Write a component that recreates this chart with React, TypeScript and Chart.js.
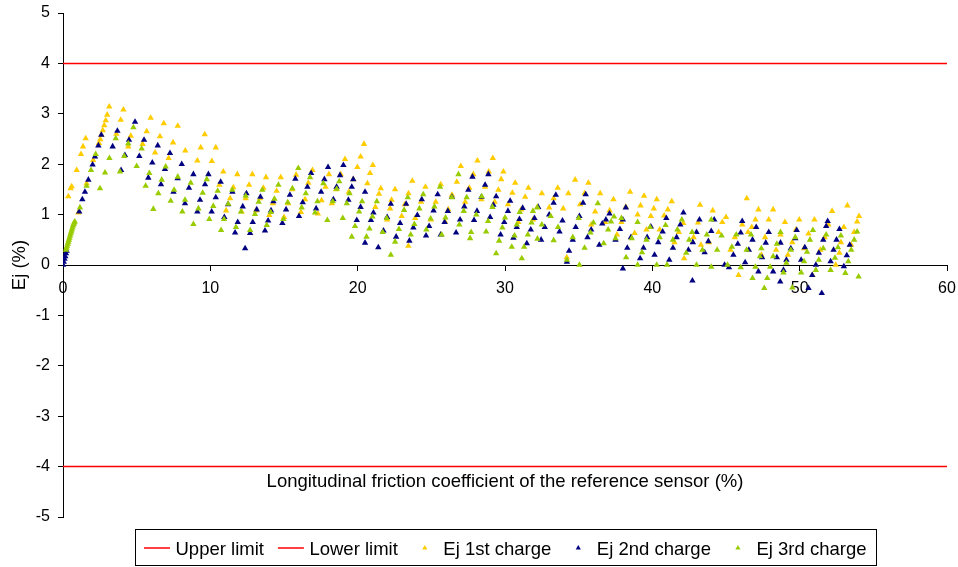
import React, { useEffect, useRef } from "react";
import { Chart, registerables } from "chart.js";

Chart.register(...registerables);

const FONT = '"Liberation Sans", Arial, Helvetica, sans-serif';

// ---- data ----
const xTitle = "Longitudinal friction coefficient of the reference sensor (%)";
const yTitle = "Ej (%)";
const seriesLabels = ["Upper limit", "Lower limit", "Ej 1st charge", "Ej 2nd charge", "Ej 3rd charge"];
const limitX = [0, 60];
const upperLimit = [4, 4];
const lowerLimit = [-4, -4];

const ej1Points: [number, number][] = [
  [0.36, 1.36], [0.52, 1.52], [0.59, 1.56], [0.93, 1.88], [1.22, 2.2], [1.36, 2.35], [1.54, 2.51],
  [1.04, 1.04], [1.6, 1.62], [2.05, 2.08], [2.44, 2.42], [2.53, 2.49], [2.6, 2.58], [2.7, 2.67], [2.8, 2.77],
  [2.9, 2.87], [3.0, 2.98], [3.14, 3.14],
  [3.62, 2.6], [3.92, 2.88], [4.1, 3.08], [4.43, 2.35], [4.6, 2.56],
  [5.4, 2.4], [5.68, 2.65], [5.95, 2.92], [6.25, 2.23], [6.58, 2.55], [6.84, 2.81],
  [7.17, 2.12], [7.47, 2.43], [7.79, 2.76], [8.3, 2.27],
  [9.12, 2.07], [9.35, 2.33], [9.62, 2.59], [10.1, 2.06], [10.37, 2.33], [10.61, 1.59], [10.88, 1.85],
  [11.07, 1.08], [11.34, 1.32], [11.56, 1.54], [11.83, 1.8],
  [12.12, 1.06], [12.4, 1.32], [12.63, 1.59], [12.85, 1.8],
  [13.1, 1.08], [13.37, 1.32], [13.6, 1.53], [13.78, 1.74],
  [14.0, 0.99], [14.25, 1.22], [14.5, 1.47], [14.78, 1.74],
  [15.0, 0.95], [15.28, 1.22], [15.55, 1.5], [15.82, 1.79],
  [16.15, 1.05], [16.43, 1.3], [16.65, 1.63], [16.93, 1.88],
  [17.3, 1.02], [17.55, 1.28], [17.82, 1.55], [18.05, 1.8],
  [18.25, 1.22], [18.53, 1.5], [18.85, 1.8], [19.14, 2.1],
  [19.4, 1.45], [19.7, 1.7], [19.98, 1.94], [20.2, 2.15], [20.43, 2.4],
  [20.66, 1.62], [20.84, 1.82], [21.03, 1.98],
  [21.2, 1.15], [21.45, 1.41], [21.57, 1.52],
  [22.0, 0.9], [22.2, 1.12], [22.3, 1.29], [22.54, 1.5],
  [22.99, 0.97], [23.2, 1.2], [23.45, 1.42], [23.71, 1.67],
  [23.44, 0.38], [23.9, 0.93], [24.3, 1.25], [24.6, 1.55],
  [24.97, 0.9], [25.3, 1.25], [25.64, 1.6],
  [25.93, 0.86], [26.15, 1.1], [26.4, 1.39], [26.73, 1.65], [27.0, 1.96],
  [27.3, 1.25], [27.58, 1.53], [27.85, 1.8], [28.13, 2.07],
  [28.4, 1.3], [28.65, 1.55], [28.9, 1.85], [29.17, 2.12],
  [29.3, 1.25], [29.55, 1.49], [29.74, 1.7], [29.89, 1.85],
  [30.2, 1.2], [30.5, 1.43], [30.69, 1.63],
  [30.9, 0.85], [31.1, 1.1], [31.37, 1.35], [31.59, 1.53],
  [31.9, 0.9], [32.2, 1.15], [32.5, 1.42],
  [33.0, 1.14], [33.3, 1.32], [33.58, 1.53],
  [33.95, 1.12], [34.3, 1.42], [34.76, 1.69], [34.19, 0.15],
  [35.1, 1.2], [35.4, 1.42], [35.66, 1.63],
  [35.85, 0.8], [36.12, 1.06], [36.46, 1.42],
  [36.8, 0.85], [37.1, 1.08], [37.36, 1.3],
  [37.6, 0.6], [37.9, 0.85], [38.2, 1.15], [38.49, 1.45],
  [38.8, 0.63], [39.0, 1.0], [39.2, 1.18], [39.44, 1.37],
  [39.6, 0.7], [39.9, 0.97], [40.1, 1.12], [40.3, 1.3],
  [40.5, 0.7], [40.8, 0.98], [41.05, 1.1], [41.32, 1.26],
  [41.5, 0.45], [41.8, 0.65], [42.1, 0.83], [42.16, 0.13],
  [42.8, 0.55], [43.1, 0.84], [43.24, 1.19], [43.3, 0.4],
  [43.85, 0.45], [44.1, 1.08], [44.5, 0.65], [44.75, 0.85], [45.0, 0.95],
  [45.3, 0.3], [45.6, 0.55], [45.85, -0.2], [46.1, 0.8], [46.41, 1.32], [46.5, 0.65],
  [46.75, 0.75], [47.0, 0.9], [47.2, 1.1],
  [47.4, 0.2], [47.65, 0.55], [47.9, 0.9], [48.2, 1.1],
  [48.4, 0.3], [48.7, 0.6], [49.0, 0.85],
  [49.2, 0.2], [49.5, 0.45], [49.75, 0.7], [49.97, 0.9],
  [50.3, 0.33], [50.6, 0.62], [50.87, -0.2], [51.0, 0.9],
  [51.4, 0.3], [51.7, 0.55], [51.95, 0.8], [52.2, 1.07],
  [52.45, 0.0], [52.7, 0.24], [52.8, 0.45], [53.0, 0.75], [53.24, 1.18],
  [53.5, 0.4], [53.7, 0.65], [53.9, 0.86], [54.03, 0.97],
];

const ej2Points: [number, number][] = [
  [0.0, 0.0], [0.05, 0.06], [0.1, 0.12], [0.15, 0.17], [0.2, 0.23], [0.25, 0.28],
  [1.1, 1.06], [1.31, 1.3], [1.49, 1.45], [1.72, 1.69], [2.01, 1.99], [2.17, 2.15], [2.4, 2.37], [2.6, 2.58],
  [3.37, 2.35], [3.69, 2.66], [3.94, 1.88], [4.2, 2.18], [4.48, 2.48], [4.89, 2.84],
  [5.18, 2.16], [5.5, 2.48], [5.79, 1.73], [6.06, 2.03], [6.43, 2.37],
  [6.65, 1.6], [6.92, 1.9], [7.26, 2.22], [7.5, 1.45], [7.78, 1.72], [8.06, 2.0],
  [8.28, 1.22], [8.55, 1.53], [8.85, 1.8], [9.12, 1.06], [9.3, 1.29], [9.64, 1.6], [9.87, 1.8],
  [10.09, 1.06], [10.37, 1.34], [10.7, 1.65], [10.95, 0.95], [11.2, 1.2], [11.5, 1.45],
  [11.68, 0.64], [11.86, 0.85], [12.2, 1.16], [12.45, 1.42], [12.36, 0.33],
  [12.7, 0.63], [12.88, 0.85], [13.15, 1.1], [13.4, 1.35],
  [13.71, 0.68], [13.92, 0.88], [14.12, 1.08], [14.28, 1.26],
  [14.89, 0.83], [15.14, 1.1], [15.4, 1.39], [15.77, 1.71],
  [16.02, 0.97], [16.27, 1.24], [16.59, 1.55], [16.84, 1.82],
  [17.18, 1.12], [17.52, 1.45], [17.74, 1.7], [17.99, 1.94],
  [18.35, 1.3], [18.57, 1.55], [18.8, 1.78], [19.03, 1.98],
  [19.37, 1.29], [19.6, 1.55], [19.7, 1.7],
  [19.94, 0.89], [20.2, 1.15], [20.5, 1.45],
  [20.5, 0.44], [20.9, 0.89], [21.07, 1.04],
  [21.4, 0.35], [21.75, 0.68], [22.0, 0.95], [22.25, 1.21],
  [22.61, 0.56], [22.88, 0.83], [23.29, 1.21],
  [23.51, 0.48], [23.78, 0.74], [24.05, 0.99], [24.35, 1.3],
  [24.64, 0.58], [24.85, 0.77], [25.15, 1.08], [25.43, 1.4],
  [25.64, 0.6], [25.9, 0.85], [26.12, 1.07], [26.4, 1.35],
  [26.68, 0.64], [26.95, 0.9], [27.24, 1.16], [27.51, 1.49], [27.79, 1.75],
  [27.9, 0.89], [28.1, 1.07], [28.4, 1.35], [28.65, 1.59], [28.87, 1.8],
  [28.99, 0.95], [29.21, 1.19], [29.4, 1.36],
  [29.7, 0.6], [29.95, 0.85], [30.2, 1.07], [30.35, 1.27],
  [30.57, 0.54], [30.8, 0.75], [30.98, 0.91], [31.2, 1.13],
  [31.48, 0.43], [31.75, 0.7], [32.0, 0.93], [32.25, 1.15],
  [32.45, 0.5], [32.7, 0.75], [33.0, 1.0], [33.3, 1.23], [33.45, 1.39],
  [33.7, 0.66], [33.9, 0.88],
  [34.2, 0.06], [34.35, 0.28], [34.6, 0.5], [34.8, 0.75], [35.05, 0.97], [35.3, 1.23], [35.48, 1.4],
  [35.6, 0.55], [35.85, 0.7],
  [36.4, 0.4], [36.6, 0.82], [36.85, 0.9], [37.09, 1.02],
  [37.5, 0.5], [37.8, 0.71], [38.0, 0.9], [38.2, 1.14],
  [38.0, -0.07], [38.3, 0.34], [38.55, 0.55],
  [39.17, 0.13], [39.4, 0.34], [39.65, 0.55], [39.9, 0.76],
  [40.15, 0.2], [40.4, 0.45], [40.7, 0.66], [40.95, 0.93],
  [41.15, 0.1], [41.4, 0.34], [41.65, 0.55], [41.9, 0.8], [42.11, 1.04],
  [42.72, -0.31], [42.45, 0.3], [42.75, 0.45], [43.0, 0.65], [43.2, 0.9],
  [43.55, 0.25], [43.8, 0.47], [44.0, 0.67], [44.2, 0.9],
  [44.9, 0.0], [45.2, -0.05], [45.5, 0.2], [45.8, 0.42], [46.0, 0.64], [46.1, 0.87],
  [46.3, 0.05], [46.55, 0.3], [46.8, 0.5], [47.05, 0.75],
  [47.2, -0.13], [47.45, 0.15], [47.7, 0.44], [47.9, 0.65],
  [48.2, -0.13], [48.45, 0.15], [48.7, 0.44],
  [48.68, -0.33], [48.9, -0.1], [49.1, 0.1], [49.4, 0.33], [49.7, 0.53], [49.8, 0.69],
  [50.1, 0.1], [50.35, 0.35],
  [50.6, -0.46], [50.85, -0.2], [51.1, 0.0], [51.3, 0.24], [51.5, -0.56],
  [51.6, 0.5], [51.8, 0.77], [51.9, 0.87],
  [52.1, 0.07], [52.3, 0.3], [52.5, 0.5], [52.7, 0.71],
  [53.0, -0.03], [53.2, 0.19], [53.4, 0.4],
];

const ej3Points: [number, number][] = [
  [0.2, 0.3], [0.24, 0.34], [0.28, 0.38], [0.32, 0.42], [0.36, 0.46], [0.4, 0.5], [0.44, 0.54], [0.48, 0.58],
  [0.52, 0.62], [0.56, 0.66], [0.6, 0.7], [0.64, 0.74], [0.68, 0.78], [0.72, 0.81], [0.76, 0.84], [0.8, 0.86],
  [1.15, 1.14], [1.6, 1.57], [1.9, 1.88], [2.22, 2.2],
  [2.51, 1.52], [2.85, 1.83], [3.15, 2.12], [3.58, 2.51],
  [3.87, 1.85], [4.16, 2.16], [4.43, 2.41], [4.78, 2.73],
  [5.0, 1.96], [5.34, 2.31], [5.61, 1.57], [5.86, 1.82], [6.13, 1.11],
  [6.47, 1.42], [6.7, 1.69], [6.97, 1.95], [7.31, 1.27], [7.54, 1.49], [7.79, 1.75],
  [8.1, 1.06], [8.28, 1.29], [8.67, 1.63], [8.85, 0.81], [9.19, 1.12], [9.48, 1.43], [9.76, 1.7],
  [9.93, 0.91], [10.2, 1.17], [10.5, 1.47],
  [10.73, 0.69], [10.93, 0.91], [11.22, 1.21], [11.49, 1.49],
  [11.74, 0.75], [12.08, 1.06], [12.4, 1.37],
  [12.7, 0.69], [13.03, 1.01], [13.28, 1.25], [13.53, 1.49],
  [13.83, 0.79], [14.1, 1.05], [14.35, 1.31], [14.62, 1.59],
  [14.96, 0.91], [15.25, 1.24], [15.57, 1.52], [15.97, 1.92],
  [16.2, 1.14], [16.48, 1.42], [16.77, 1.74],
  [17.11, 1.04], [17.27, 1.26], [17.67, 1.62],
  [17.94, 0.89], [18.31, 1.26], [18.58, 1.51], [18.75, 1.66],
  [18.99, 0.93], [19.26, 1.22], [19.45, 1.42],
  [19.6, 0.56], [19.82, 0.77], [20.1, 1.06], [20.3, 1.26],
  [20.6, 0.56], [20.8, 0.72], [21.0, 0.96], [21.3, 1.26],
  [21.7, 0.65], [21.97, 0.93],
  [22.25, 0.2], [22.54, 0.46], [22.8, 0.71], [23.15, 1.09], [23.4, 1.34],
  [23.6, 0.6], [23.85, 0.81], [24.19, 1.12], [24.45, 1.4],
  [24.66, 0.7], [24.95, 0.92], [25.21, 1.16], [25.59, 1.55],
  [25.7, 0.6], [25.96, 0.94], [26.39, 1.34], [26.84, 1.8],
  [26.9, 0.8], [27.2, 1.07], [27.4, 1.34],
  [27.63, 0.53], [27.7, 0.65], [28.05, 1.0], [28.42, 1.36],
  [28.72, 0.66], [28.85, 0.87], [29.15, 1.15],
  [29.4, 0.23], [29.6, 0.48], [29.82, 0.74], [30.0, 0.94],
  [30.46, 0.36], [30.65, 0.58], [30.8, 0.8], [31.0, 1.05],
  [31.14, 0.13], [31.3, 0.36], [31.55, 0.6], [31.8, 0.84], [31.9, 1.07], [32.2, 1.14],
  [32.2, 0.52], [32.5, 0.8],
  [33.1, 0.97], [33.3, 0.49], [33.6, 0.75],
  [34.2, 0.1], [34.6, 0.55], [35.0, 0.93],
  [35.05, 0.0], [35.4, 0.34], [35.8, 0.64], [36.0, 0.84], [36.3, 1.22],
  [36.7, 0.43], [37.0, 0.7], [37.2, 0.86], [37.4, 0.96],
  [37.5, 0.53], [37.9, 0.93],
  [38.22, 0.15], [38.6, 0.53], [39.0, 0.85],
  [39.0, 0.0], [39.3, 0.25], [39.6, 0.5], [39.85, 0.75],
  [40.3, 0.0], [40.5, 0.55], [40.9, 0.79],
  [41.0, 0.0], [41.4, 0.5], [41.7, 0.7], [42.0, 0.9],
  [42.3, 0.24], [42.5, 0.5], [42.7, 0.65],
  [43.0, 0.0], [43.4, 0.3], [43.7, 0.6], [44.0, 0.9],
  [44.0, -0.04], [44.4, 0.3], [44.7, 0.58],
  [45.1, 0.0], [45.4, 0.36], [45.7, 0.6],
  [46.0, -0.05], [46.4, 0.3], [46.7, 0.6],
  [46.8, -0.26], [47.0, -0.04], [47.3, 0.17], [47.4, 0.33],
  [47.6, -0.46], [47.8, -0.26], [48.0, -0.04], [48.2, 0.17], [48.45, 0.42], [48.7, 0.65],
  [48.9, -0.15], [49.1, 0.04], [49.4, 0.3], [49.7, 0.55], [49.5, -0.45],
  [50.1, -0.15], [50.3, 0.07], [50.5, 0.26], [50.7, 0.5], [50.9, 0.69],
  [51.1, -0.1], [51.3, 0.1], [51.6, 0.33], [51.8, 0.6],
  [52.1, -0.1], [52.4, 0.14], [52.6, 0.35], [52.8, 0.58],
  [53.1, -0.16], [53.3, 0.07], [53.5, 0.3], [53.7, 0.5], [53.9, 0.66],
  [54.0, -0.23],
];

const seriesColors = ["#FF0000", "#FF0000", "#FFCC00", "#000080", "#99CC00"];

// ---- plugins ----
const xTitlePlugin = {
  id: "xTitleInside",
  afterDraw(chart: any) {
    const { ctx, chartArea } = chart;
    ctx.save();
    ctx.font = `18.5px ${FONT}`;
    ctx.fillStyle = "#000";
    ctx.textAlign = "center";
    ctx.textBaseline = "alphabetic";
    ctx.fillText(xTitle, (chartArea.left + chartArea.right) / 2, chartArea.bottom - 30);
    ctx.restore();
  },
};

const boxLegendPlugin = {
  id: "boxLegend",
  afterDraw(chart: any) {
    const { ctx, chartArea } = chart;
    const ds = chart.data.datasets;
    ctx.save();
    ctx.font = `18.5px ${FONT}`;
    const symW = 26;
    const gapText = 5.5;
    const gapItem = 14;
    const padL = 8.5;
    const padR = 10;
    const widths = ds.map((d: any) => symW + gapText + ctx.measureText(d.label).width);
    const total = padL + padR + widths.reduce((a: number, b: number) => a + b, 0) + gapItem * (ds.length - 1);
    const cx = (chartArea.left + chartArea.right) / 2;
    const left = Math.round(cx - total / 2) + 0.5;
    const top = chartArea.bottom + 12.5;
    const h = 36;
    ctx.strokeStyle = "#000";
    ctx.lineWidth = 1;
    ctx.strokeRect(left, top, Math.round(total), h);
    let x = left + padL;
    const symY = chartArea.bottom + 31;
    const baseY = chartArea.bottom + 38;
    ds.forEach((d: any, i: number) => {
      const cxs = x + symW / 2;
      if (d.showLine) {
        ctx.strokeStyle = d.borderColor;
        ctx.lineWidth = 1.5;
        ctx.beginPath();
        ctx.moveTo(x, symY);
        ctx.lineTo(x + symW, symY);
        ctx.stroke();
      } else {
        const r = 3;
        ctx.fillStyle = d.backgroundColor;
        ctx.beginPath();
        ctx.moveTo(cxs, symY - r);
        ctx.lineTo(cxs + r * 0.866, symY + r * 0.5);
        ctx.lineTo(cxs - r * 0.866, symY + r * 0.5);
        ctx.closePath();
        ctx.fill();
      }
      ctx.fillStyle = "#000";
      ctx.textAlign = "left";
      ctx.textBaseline = "alphabetic";
      ctx.fillText(d.label, x + symW + gapText, baseY);
      x += widths[i] + gapItem;
    });
    ctx.restore();
  },
};

export default function App() {
  const ref = useRef<HTMLCanvasElement | null>(null);

  useEffect(() => {
    document.body.style.margin = "0";
    const canvas = ref.current;
    if (!canvas) return;
    const toXY = (pts: [number, number][]) => pts.map(([x, y]) => ({ x, y }));
    const tickFont = { family: FONT, size: 16 };
    const triangle = (label: string, pts: [number, number][], color: string, order: number) => ({
      label,
      data: toXY(pts),
      pointStyle: "triangle",
      pointRadius: 3.7,
      backgroundColor: color,
      borderColor: color,
      borderWidth: 0,
      order,
    });
    const chart = new Chart(canvas, {
      type: "scatter",
      data: {
        datasets: [
          {
            label: seriesLabels[0],
            data: limitX.map((x, i) => ({ x, y: upperLimit[i] })),
            showLine: true,
            borderColor: seriesColors[0],
            backgroundColor: seriesColors[0],
            borderWidth: 1.5,
            pointRadius: 0,
            order: 4,
          },
          {
            label: seriesLabels[1],
            data: limitX.map((x, i) => ({ x, y: lowerLimit[i] })),
            showLine: true,
            borderColor: seriesColors[1],
            backgroundColor: seriesColors[1],
            borderWidth: 1.5,
            pointRadius: 0,
            order: 3,
          },
          triangle(seriesLabels[2], ej1Points, seriesColors[2], 2),
          triangle(seriesLabels[3], ej2Points, seriesColors[3], 1),
          triangle(seriesLabels[4], ej3Points, seriesColors[4], 0),
        ] as any,
      },
      options: {
        animation: false,
        responsive: false,
        maintainAspectRatio: false,
        layout: { padding: { left: 0, right: 11, top: 13, bottom: 50 } },
        plugins: {
          legend: { display: false },
          tooltip: { enabled: false },
        },
        scales: {
          x: {
            type: "linear",
            position: { y: 0 } as any,
            min: 0,
            max: 60,
            ticks: { stepSize: 10, font: tickFont, color: "#000", padding: 9, maxRotation: 0 },
            grid: { display: true, drawOnChartArea: false, drawTicks: true, tickLength: 5, color: "#000" },
            border: { display: true, color: "#000", width: 1 },
            afterFit: (s: any) => {
              s.paddingLeft = 0;
              s.paddingRight = 0;
            },
          },
          y: {
            type: "linear",
            position: "left",
            min: -5,
            max: 5,
            ticks: { stepSize: 1, font: tickFont, color: "#000", padding: 8 },
            grid: { display: true, drawOnChartArea: false, drawTicks: true, tickLength: 5, color: "#000" },
            border: { display: true, color: "#000", width: 1 },
            title: {
              display: true,
              text: yTitle,
              color: "#000",
              font: { family: FONT, size: 18.5 },
              padding: { top: 9, bottom: 0 },
            },
            afterFit: (s: any) => {
              s.width = 63;
              s.paddingTop = 0;
              s.paddingBottom = 0;
            },
          },
        },
      } as any,
      plugins: [xTitlePlugin, boxLegendPlugin],
    });
    return () => chart.destroy();
  }, []);

  return (
    <div style={{ width: 958, height: 567 }}>
      <canvas ref={ref} width={958} height={567} style={{ display: "block" }} />
    </div>
  );
}
